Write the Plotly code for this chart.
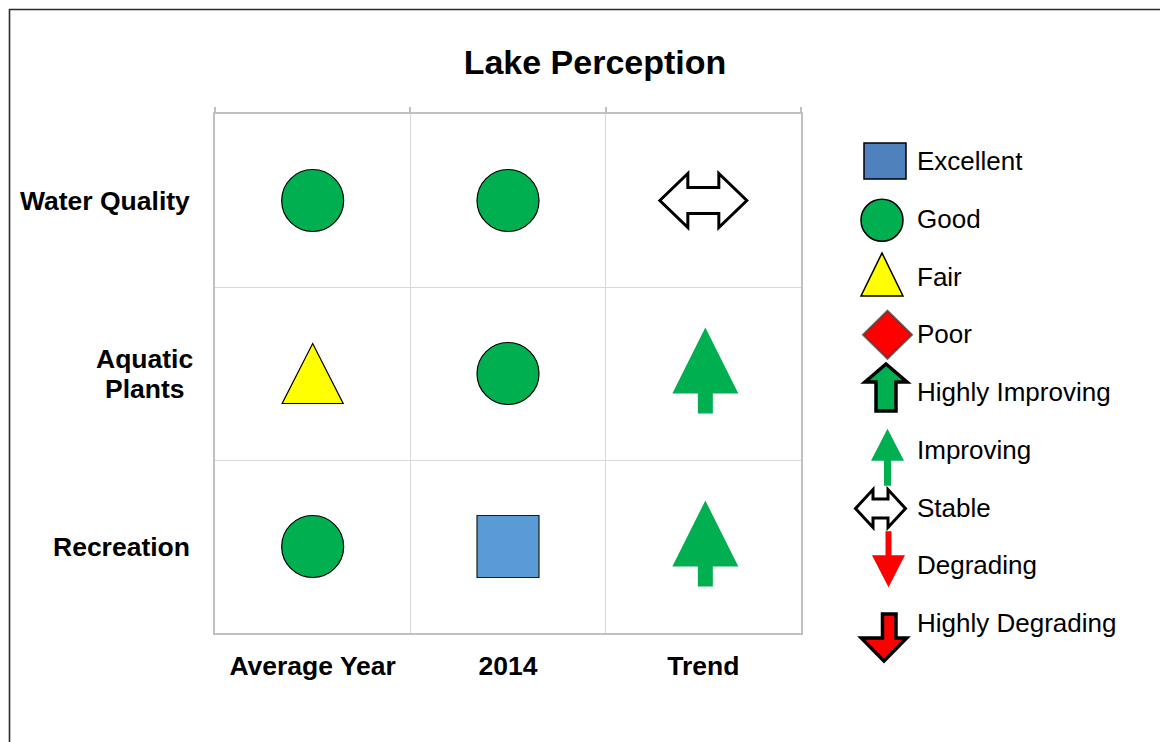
import plotly.graph_objects as go

# ---------------- data ----------------
TITLE = "Lake Perception"
COLUMNS = ["Average Year", "2014", "Trend"]
ROWS = ["Water Quality", "Aquatic<br>Plants", "Recreation"]
AVERAGE_YEAR = ["Good", "Fair", "Good"]
YEAR_2014 = ["Good", "Good", "Excellent"]
TREND = ["Stable", "Improving", "Improving"]
LEGEND_LABELS = ["Excellent", "Good", "Fair", "Poor", "Highly Improving",
                 "Improving", "Stable", "Degrading", "Highly Degrading"]

# ---------------- style ----------------
W, H = 1160, 742
FONT = "Liberation Sans, Arial, sans-serif"
GREEN = "#00b050"
RED = "#ff0000"
YELLOW = "#ffff00"
BLUE_MAIN = "#5b9bd5"
BLUE_LEG = "#4f81bd"
LABEL_SIZE = 26.5


def poly(points, fill, line="rgba(0,0,0,0)", width=0):
    return dict(kind="path", pts=points, fill=fill, line=line, width=width)


def circ(cx, cy, r, fill, line, width):
    return dict(kind="circle", c=(cx, cy), r=(r, r), fill=fill, line=line, width=width)


def rect(x0, x1, y0, y1, fill, line, width):
    return dict(kind="rect", box=(x0, x1, y0, y1), fill=fill, line=line, width=width)


def up_arrow(dx, tip, base, bottom, head, stem):
    return [(dx, tip), (dx + head, base), (dx + stem, base), (dx + stem, bottom),
            (dx - stem, bottom), (dx - stem, base), (dx - head, base)]


def down_arrow(dx, top, base, tip, head, stem, stem_dx=0.0):
    return [(dx + stem_dx - stem, top), (dx + stem_dx + stem, top), (dx + stem_dx + stem, base),
            (dx + head, base), (dx, tip), (dx - head, base), (dx + stem_dx - stem, base)]


def double_arrow(dx, dy, half_w, head_back, half_h, shaft):
    return [(dx - half_w, dy), (dx - head_back, dy - half_h), (dx - head_back, dy - shaft),
            (dx + head_back, dy - shaft), (dx + head_back, dy - half_h), (dx + half_w, dy),
            (dx + head_back, dy + half_h), (dx + head_back, dy + shaft),
            (dx - head_back, dy + shaft), (dx - head_back, dy + half_h)]


# glyphs in screen pixels (y down) relative to an anchor point
MAIN_GLYPHS = {
    "Excellent": rect(-31, 31, -31, 31, BLUE_MAIN, "#1a1a1a", 1.2),
    "Good": circ(0, 0, 31, GREEN, "#000000", 1.2),
    "Fair": poly([(0, -30), (30.5, 30), (-30.5, 30)], YELLOW, "#000000", 1.2),
    "Poor": poly([(0, -31), (31, 0), (0, 31), (-31, 0)], RED, "#555555", 1.5),
    "Improving": poly(up_arrow(2, -46, 20, 40, 33, 7.5), GREEN),
    "Degrading": poly(down_arrow(2, -40, -20, 46, 33, 7.5), RED),
    "Stable": poly(double_arrow(0, 0, 43.5, 15.5, 27, 13), "#ffffff", "#000000", 3),
    "Highly Improving": poly(up_arrow(0, -40, -12, 40, 30, 14), GREEN, "#000000", 3.5),
    "Highly Degrading": poly(down_arrow(0, -40, 12, 40, 30, 14), RED, "#000000", 3.5),
}

LEGEND_GLYPHS = {
    "Excellent": rect(-20, 22, -18, 18, BLUE_LEG, "#000000", 1.5),
    "Good": circ(-2, 1.5, 21, GREEN, "#000000", 1.5),
    "Fair": poly([(-2, -23.5), (19, 19.5), (-23, 19.5)], YELLOW, "#000000", 1.5),
    "Poor": poly([(3.5, -23.5), (28, 0.5), (3.5, 24.5), (-21, 0.5)], RED, "rgba(70,60,60,0.75)", 2),
    "Highly Improving": poly(up_arrow(2, -28, -10, 19, 21, 10), GREEN, "#000000", 3.5),
    "Improving": poly(up_arrow(3.5, -21, 11, 36, 16.5, 3.5), GREEN),
    "Stable": poly(double_arrow(-3.5, 1, 25, 7.5, 19, 9.5), "#ffffff", "#000000", 3),
    "Degrading": poly(down_arrow(4.5, -34, -10, 22, 16.5, 3), RED),
    "Highly Degrading": poly(down_arrow(0, -9, 15, 38, 22.7, 6.75, 5.25), RED, "#000000", 3.5),
}


def make_shape(g, xref, yref, x, y):
    base = dict(xref=xref, yref=yref, xsizemode="pixel", ysizemode="pixel",
                xanchor=x, yanchor=y, fillcolor=g["fill"], layer="above",
                line=dict(color=g["line"], width=g["width"]))
    if g["kind"] == "path":
        path = "M " + " L ".join(f"{px},{-py}" for px, py in g["pts"]) + " Z"
        base.update(type="path", path=path)
    elif g["kind"] == "circle":
        cx, cy = g["c"]
        r = g["r"][0]
        base.update(type="circle", x0=cx - r, x1=cx + r, y0=-cy - r, y1=-cy + r)
    else:
        x0, x1, y0, y1 = g["box"]
        base.update(type="rect", x0=x0, x1=x1, y0=-y1, y1=-y0)
    return base


fig = go.Figure()

# ---------------- main grid ----------------
table = [AVERAGE_YEAR, YEAR_2014, TREND]
shapes = []
hx, hy, ht = [], [], []
for j, col in enumerate(table):
    for i, rating in enumerate(col):
        x, y = j + 0.5, i + 0.5
        shapes.append(make_shape(MAIN_GLYPHS[rating], "x", "y", x, y))
        hx.append(x)
        hy.append(y)
        ht.append(f"{ROWS[i].replace('<br>', ' ')} / {COLUMNS[j]}: {rating}")

fig.add_trace(go.Scatter(x=hx, y=hy, mode="markers", hovertext=ht, hoverinfo="text",
                         marker=dict(size=40, opacity=0), xaxis="x", yaxis="y",
                         showlegend=False))
fig.add_trace(go.Scatter(x=[0, 3], y=[0, 3], mode="markers", marker=dict(opacity=0),
                         hoverinfo="skip", xaxis="x2", yaxis="y", showlegend=False))

# ---------------- legend panel ----------------
LEG_GLYPH_X = 884
LEG_TEXT_X = 916
annotations = []
for k, label in enumerate(LEGEND_LABELS):
    shapes.append(make_shape(LEGEND_GLYPHS[label], "x3", "y3", LEG_GLYPH_X, k))
    annotations.append(dict(text=label, xref="x3", yref="y3", x=LEG_TEXT_X, y=k,
                            xanchor="left", yanchor="middle", showarrow=False, borderpad=0,
                            font=dict(family=FONT, size=26, color="#000000")))
fig.add_trace(go.Scatter(x=[LEG_GLYPH_X] * len(LEGEND_LABELS), y=list(range(len(LEGEND_LABELS))),
                         mode="markers", marker=dict(opacity=0), hovertext=LEGEND_LABELS,
                         hoverinfo="text", xaxis="x3", yaxis="y3", showlegend=False))

# ---------------- outer border ----------------
shapes.append(dict(type="rect", xref="paper", yref="paper", x0=9.5 / W, x1=1.2,
                   y0=-0.2, y1=(H - 9.5) / H, line=dict(color="#2b2b2b", width=1.6),
                   fillcolor="rgba(0,0,0,0)", layer="above"))

# row labels (multi-line labels are split so the line spacing can be set)
LINE_STEP = 30
for i, r in enumerate(ROWS):
    lines = r.split("<br>")
    n = len(lines)
    for k, line in enumerate(lines):
        annotations.append(dict(text=line, xref="paper", x=(144.5 if n > 1 else 191.5) / W,
                                xanchor="center" if n > 1 else "right",
                                yref="y", y=i + 0.5, yanchor="middle",
                                yshift=-(k - (n - 1) / 2) * LINE_STEP, showarrow=False,
                                font=dict(family=FONT, size=LABEL_SIZE, color="#000000", weight="bold")))

fig.update_layout(
    width=W, height=H,
    margin=dict(l=0, r=0, t=0, b=0),
    paper_bgcolor="#ffffff", plot_bgcolor="#ffffff",
    template="none",
    showlegend=False,
    title=dict(text=TITLE, x=595 / W, xanchor="center", xref="paper",
               y=(H - 62) / H, yanchor="middle", yref="paper",
               font=dict(family=FONT, size=34, color="#000000", weight="bold")),
    xaxis=dict(domain=[215 / W, 801 / W], range=[0, 3], tickvals=[0.5, 1.5, 2.5],
               ticktext=COLUMNS, ticks="", showgrid=False, zeroline=False,
               showline=True, linecolor="#c0c0c0", linewidth=2, mirror=True,
               tickfont=dict(family=FONT, size=LABEL_SIZE, color="#000000", weight="bold"),
               ticklabelstandoff=8, automargin=False, fixedrange=True,
               minor=dict(tickvals=[1, 2], showgrid=True, gridcolor="#d9d9d9", gridwidth=1, ticks="")),
    xaxis2=dict(overlaying="x", side="top", anchor="y", range=[0, 3], tickvals=[0, 1, 2, 3],
                ticks="outside", ticklen=6, tickcolor="#c0c0c0", tickwidth=1.5,
                showticklabels=False, showgrid=False, zeroline=False, showline=False,
                automargin=False, fixedrange=True),
    yaxis=dict(domain=[(H - 633) / H, (H - 114) / H], range=[3, 0], showticklabels=False,
               ticks="", showgrid=False, zeroline=False, showline=True, linecolor="#c0c0c0",
               linewidth=2, mirror=True, automargin=False, fixedrange=True,
               minor=dict(tickvals=[1, 2], showgrid=True, gridcolor="#d9d9d9", gridwidth=1, ticks="")),
    xaxis3=dict(domain=[845 / W, 1.0], range=[845, 1160], visible=False, fixedrange=True),
    yaxis3=dict(domain=[(H - 680.75) / H, (H - 103.25) / H], range=[9, -1], anchor="x3",
                visible=False, fixedrange=True),
    shapes=shapes,
    annotations=annotations,
)

# remove the page's default body margin so the figure starts at the window corner
fig.write_html("out.html", config={"displayModeBar": False},
               post_script="document.body.style.margin='0';")
